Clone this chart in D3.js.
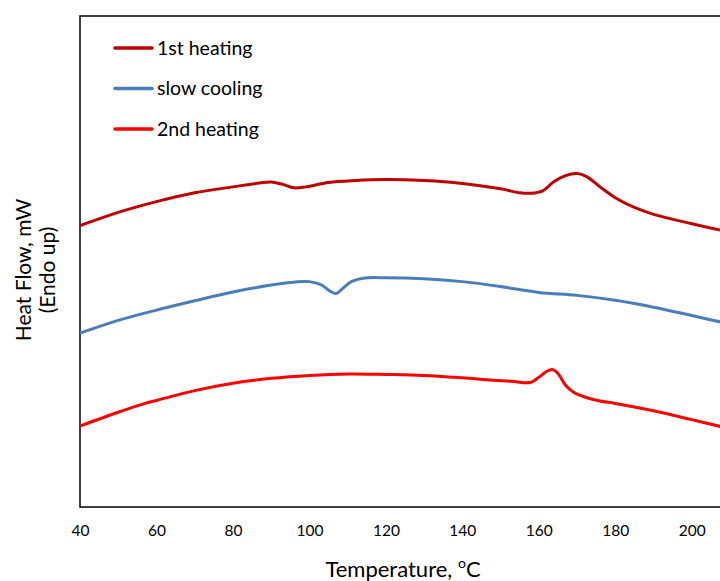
<!DOCTYPE html>
<html>
<head>
<meta charset="utf-8">
<script src="https://cdn.jsdelivr.net/npm/d3@7/dist/d3.min.js"></script>
<style>
  html, body { margin: 0; padding: 0; background: #fff; overflow: hidden; }
  svg { display: block; font-family: Lato, "Open Sans", sans-serif; }
</style>
</head>
<body>
<svg id="chart" width="720" height="581"></svg>
<script>
// DSC thermograms: temperature (°C) vs heat flow (arbitrary mW offset, endo up)
const firstHeatingT = [40, 50, 60, 70, 80, 87, 90, 93, 96, 99, 105, 112, 120, 130, 140, 150, 155, 158, 161, 164, 167, 170, 172.5, 176, 180, 185, 190, 200, 208];
const firstHeatingQ = [5.73, 6.00, 6.22, 6.40, 6.52, 6.60, 6.62, 6.57, 6.50, 6.52, 6.61, 6.65, 6.67, 6.65, 6.59, 6.48, 6.40, 6.39, 6.44, 6.63, 6.75, 6.79, 6.73, 6.52, 6.30, 6.10, 5.96, 5.77, 5.63];

const slowCoolingT = [40, 50, 60, 70, 80, 90, 97, 100, 103, 105.5, 107, 109, 111, 114, 120, 130, 140, 150, 160, 170, 180, 190, 200, 208];
const slowCoolingQ = [3.54, 3.80, 4.01, 4.20, 4.38, 4.52, 4.59, 4.59, 4.53, 4.39, 4.35, 4.47, 4.59, 4.66, 4.67, 4.65, 4.59, 4.49, 4.37, 4.31, 4.21, 4.07, 3.90, 3.76];

const secondHeatingT = [40, 50, 57, 60, 70, 80, 90, 100, 110, 120, 130, 140, 148, 153, 156, 158, 160, 162, 163.5, 165, 167, 169, 172, 176, 180, 190, 200, 208];
const secondHeatingQ = [1.65, 1.93, 2.11, 2.17, 2.37, 2.52, 2.62, 2.68, 2.71, 2.70, 2.68, 2.63, 2.58, 2.56, 2.53, 2.54, 2.64, 2.76, 2.80, 2.72, 2.48, 2.34, 2.24, 2.16, 2.11, 1.96, 1.78, 1.63];

const seriesNames = ["1st heating", "slow cooling", "2nd heating"];
const seriesColors = ["#C00000", "#4A7EBB", "#FF0000"];
const xTicks = [40, 60, 80, 100, 120, 140, 160, 180, 200];

const series = [
  { name: seriesNames[0], color: seriesColors[0], T: firstHeatingT, Q: firstHeatingQ },
  { name: seriesNames[1], color: seriesColors[1], T: slowCoolingT, Q: slowCoolingQ },
  { name: seriesNames[2], color: seriesColors[2], T: secondHeatingT, Q: secondHeatingQ }
];

const svg = d3.select("#chart");
const plot = { left: 80, top: 16, right: 730, bottom: 507 };

const x = d3.scaleLinear().domain([40, 210]).range([plot.left, plot.right]);
const y = d3.scaleLinear().domain([0, 10]).range([plot.bottom, plot.top]);

// plot frame
svg.append("rect")
  .attr("x", plot.left).attr("y", plot.top)
  .attr("width", plot.right - plot.left).attr("height", plot.bottom - plot.top)
  .attr("fill", "none").attr("stroke", "#000").attr("stroke-width", 1.5);

// x axis tick labels (no tick marks)
const xAxis = d3.axisBottom(x).tickValues(xTicks).tickSize(0).tickPadding(18);
const gx = svg.append("g").attr("transform", `translate(0,${plot.bottom})`).call(xAxis);
gx.select(".domain").remove();
gx.selectAll("text").attr("font-size", 15.5).attr("fill", "#000").attr("font-family", "Lato, sans-serif");

// curves
const line = d3.line()
  .x(d => x(d[0]))
  .y(d => y(d[1]))
  .curve(d3.curveCatmullRom.alpha(0.5));

svg.append("defs").append("clipPath").attr("id", "clip")
  .append("rect").attr("x", plot.left).attr("y", plot.top)
  .attr("width", plot.right - plot.left).attr("height", plot.bottom - plot.top);

svg.append("g").attr("clip-path", "url(#clip)")
  .selectAll("path")
  .data(series)
  .join("path")
  .attr("d", s => line(s.T.map((t, i) => [t, s.Q[i]])))
  .attr("fill", "none")
  .attr("stroke", s => s.color)
  .attr("stroke-width", 3)
  .attr("stroke-linejoin", "round");

// legend
const legend = svg.append("g");
series.forEach((s, i) => {
  const ly = 48 + i * 40.5;
  legend.append("line")
    .attr("x1", 115).attr("x2", 152).attr("y1", ly).attr("y2", ly)
    .attr("stroke", s.color).attr("stroke-width", 3.5).attr("stroke-linecap", "round");
  legend.append("text")
    .attr("x", 157).attr("y", ly).attr("dy", "0.35em")
    .attr("font-size", 19.5).attr("fill", "#000")
    .text(s.name);
});

// axis titles
const xt = svg.append("text")
  .attr("x", 403).attr("y", 577)
  .attr("text-anchor", "middle").attr("font-size", 22).attr("fill", "#000");
xt.append("tspan").text("Temperature, ");
xt.append("tspan").attr("font-size", 14).attr("dy", -9).text("o");
xt.append("tspan").attr("dy", 9).text("C");

const yt = svg.append("text")
  .attr("transform", "translate(0,270) rotate(-90)")
  .attr("text-anchor", "middle").attr("font-size", 21).attr("fill", "#000");
yt.append("tspan").attr("x", 0).attr("y", 31).text("Heat Flow, mW");
yt.append("tspan").attr("x", 0).attr("y", 55).text("(Endo up)");
</script>
</body>
</html>
